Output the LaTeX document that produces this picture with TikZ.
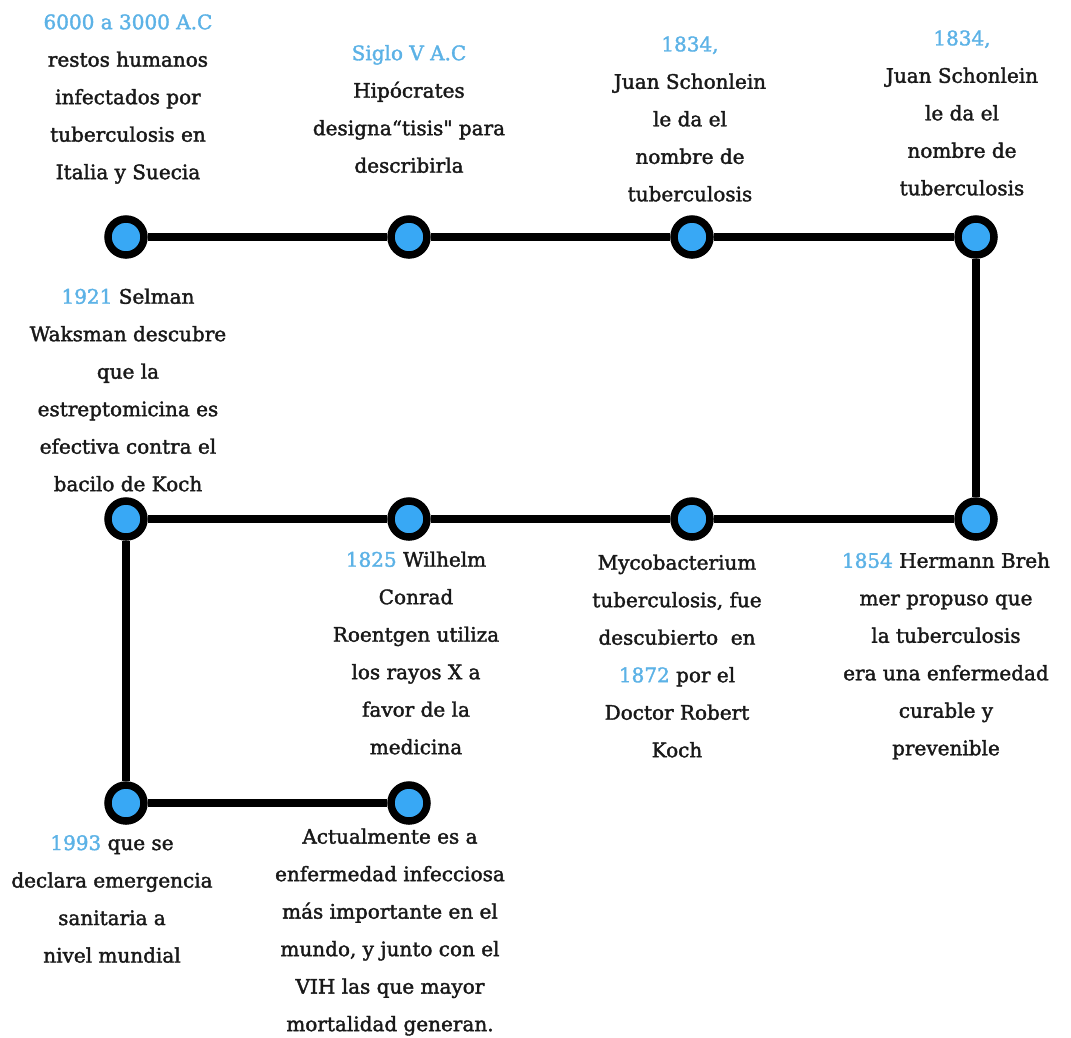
\documentclass[tikz,border=0pt]{standalone}
\usepackage{fontspec}
\newfontfamily\lblfont{DejaVu Serif}[FakeBold=1.8]
\usetikzlibrary{backgrounds}
\definecolor{tblue}{RGB}{92,178,230}
\definecolor{dotblue}{RGB}{56,168,245}
\tikzset{
  dot/.style={circle, draw=black, line width=7.5pt, fill=dotblue, minimum size=36pt, inner sep=0pt},
  link/.style={line width=7.5pt, draw=black},
  lbl/.style={align=center, inner sep=0pt, text=black!90, font=\lblfont\fontsize{20}{37.5}\selectfont}
}
\newcommand{\yr}[1]{{\color{tblue}#1}}
\begin{document}
\begin{tikzpicture}[x=1pt,y=-1pt]
\useasboundingbox (0,0) rectangle (1071,1037);
% dots
\node[dot] (c11) at (126,237) {};
\node[dot] (c12) at (409,237) {};
\node[dot] (c13) at (692,237) {};
\node[dot] (c14) at (976,237) {};
\node[dot] (c21) at (126,519) {};
\node[dot] (c22) at (409,519) {};
\node[dot] (c23) at (692,519) {};
\node[dot] (c24) at (976,519) {};
\node[dot] (c31) at (126,803) {};
\node[dot] (c32) at (409,803) {};
% connectors
\draw[link] (c11) -- (c12);
\draw[link] (c12) -- (c13);
\draw[link] (c13) -- (c14);
\draw[link] (c14) -- (c24);
\draw[link] (c24) -- (c23);
\draw[link] (c23) -- (c22);
\draw[link] (c22) -- (c21);
\draw[link] (c21) -- (c31);
\draw[link] (c31) -- (c32);
% labels
\node[lbl] (t11) at (128,99) {\yr{6000 a 3000 A.C}\\restos humanos\\infectados por\\tuberculosis en\\Italia y Suecia};
\node[lbl] (t12) at (409,109) {\yr{Siglo V A.C}\\Hipócrates\\designa“tisis" para\\describirla};
\node[lbl] (t13) at (690,119) {\yr{1834,}\\Juan Schonlein\\le da el\\nombre de\\tuberculosis};
\node[lbl] (t14) at (962,113) {\yr{1834,}\\Juan Schonlein\\le da el\\nombre de\\tuberculosis};
\node[lbl] (t21) at (128,390) {\yr{1921} Selman\\Waksman descubre\\que la\\estreptomicina es\\efectiva contra el\\bacilo de Koch};
\node[lbl] (t22) at (416,653) {\yr{1825} Wilhelm\\Conrad\\Roentgen utiliza\\los rayos X a\\favor de la\\medicina};
\node[lbl] (t23) at (677,656) {Mycobacterium\\tuberculosis, fue\\descubierto\ \ en\\\yr{1872} por el\\Doctor Robert\\Koch};
\node[lbl] (t24) at (946,656) {\yr{1854} Hermann Breh\\mer propuso que\\la tuberculosis\\era una enfermedad\\curable y\\prevenible};
\node[lbl] (t31) at (112,899) {\yr{1993} que se\\declara emergencia\\sanitaria a\\nivel mundial};
\node[lbl] (t32) at (390,932) {Actualmente es a\\enfermedad infecciosa\\más importante en el\\mundo, y junto con el\\VIH las que mayor\\mortalidad generan.};
\end{tikzpicture}
\end{document}
